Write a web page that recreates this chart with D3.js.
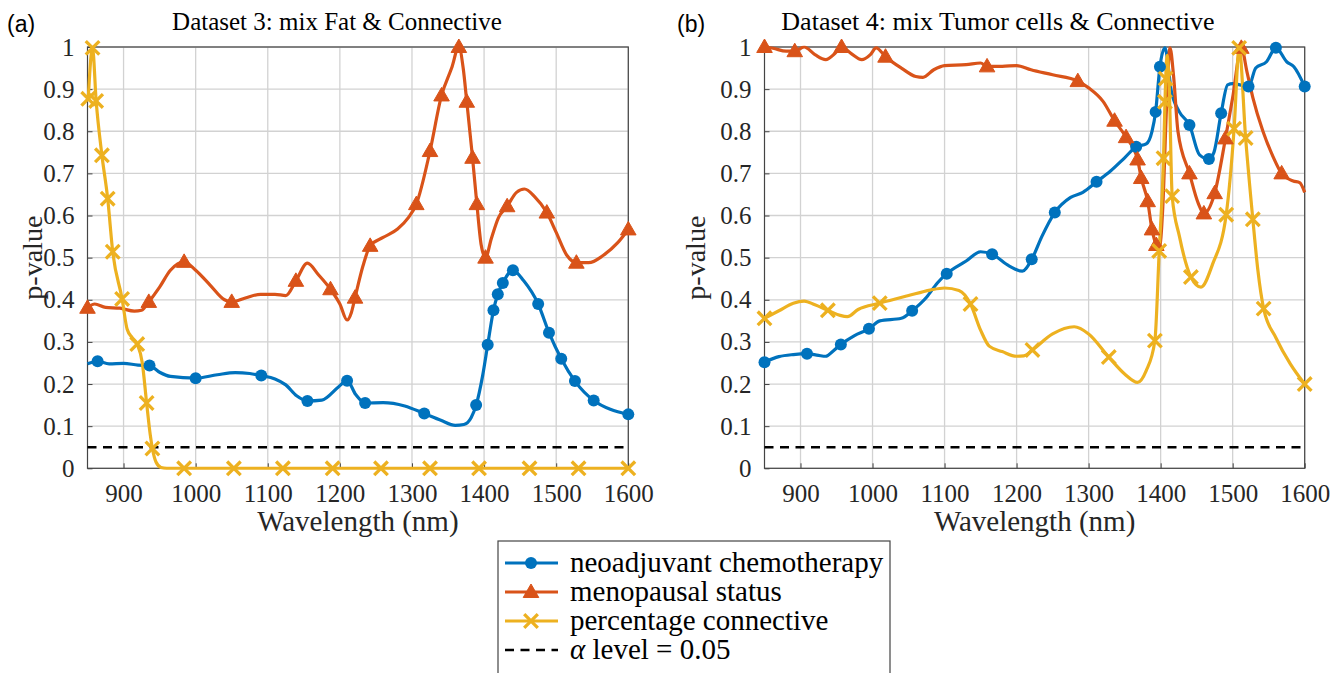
<!DOCTYPE html>
<html><head><meta charset="utf-8">
<script src="https://cdn.jsdelivr.net/npm/d3@7"></script>
<style>
body{margin:0;background:#fff} svg{display:block}
.serif{font-family:"Liberation Serif","Times New Roman",Times,serif}
.sans{font-family:"Liberation Sans",Arial,Helvetica,sans-serif}
</style>
</head><body>
<svg id="c" width="1342" height="673"></svg>
<script>
// ---------- data ----------
const xTicks = [900, 1000, 1100, 1200, 1300, 1400, 1500, 1600];
const xTickLabels = ["900", "1000", "1100", "1200", "1300", "1400", "1500", "1600"];
const yTicks = [0, 0.1, 0.2, 0.3, 0.4, 0.5, 0.6, 0.7, 0.8, 0.9, 1];
const yTickLabels = ["0", "0.1", "0.2", "0.3", "0.4", "0.5", "0.6", "0.7", "0.8", "0.9", "1"];
const xDomain = [850, 1600];
const yDomain = [0, 1];
const alphaLevel = 0.05;
const seriesNames = ["neoadjuvant chemotherapy", "menopausal status", "percentage connective"];
const alphaLabel = ["\u03B1", " level = 0.05"];
const titles = ["Dataset 3: mix Fat & Connective", "Dataset 4: mix Tumor cells & Connective"];
const panelTags = ["(a)", "(b)"];
const xLabel = "Wavelength (nm)";
const yLabel = "p-value";

// [wavelength, p-value, hasMarker]
const ds3Chemo = [[850,0.248,0],[864,0.254,1],[880,0.248,0],[900,0.249,0],[920,0.245,0],[936,0.244,1],[950,0.228,0],[965,0.218,0],[1000,0.214,1],[1030,0.222,0],[1055,0.227,0],[1075,0.225,0],[1091,0.22,1],[1110,0.212,0],[1125,0.198,0],[1140,0.172,0],[1155,0.16,1],[1175,0.162,0],[1198,0.193,0],[1210,0.208,1],[1222,0.175,0],[1235,0.155,1],[1260,0.156,0],[1290,0.148,0],[1317,0.13,1],[1340,0.114,0],[1360,0.102,0],[1372,0.104,0],[1382,0.12,0],[1389,0.15,1],[1398,0.22,0],[1405,0.293,1],[1413,0.375,1],[1419,0.413,1],[1426,0.44,1],[1440,0.47,1],[1455,0.445,0],[1475,0.39,1],[1490,0.322,1],[1507,0.26,1],[1526,0.207,1],[1552,0.161,1],[1575,0.14,0],[1600,0.128,1]];
const ds3Meno = [[850,0.381,1],[860,0.39,0],[875,0.382,0],[895,0.38,0],[915,0.373,0],[925,0.375,0],[935,0.395,1],[950,0.43,0],[965,0.47,0],[984,0.49,1],[1000,0.47,0],[1020,0.435,0],[1040,0.4,0],[1050,0.395,1],[1070,0.405,0],[1090,0.413,0],[1110,0.413,0],[1125,0.41,0],[1139,0.445,1],[1155,0.487,0],[1170,0.46,0],[1187,0.425,1],[1200,0.39,0],[1210,0.352,0],[1216,0.37,0],[1221,0.405,1],[1232,0.48,0],[1242,0.528,1],[1260,0.548,0],[1280,0.568,0],[1295,0.595,0],[1306,0.627,1],[1325,0.753,1],[1341,0.885,1],[1355,0.95,0],[1365,1.0,1],[1371,0.95,0],[1376,0.87,1],[1384,0.737,1],[1390,0.627,1],[1396,0.53,0],[1402,0.5,1],[1410,0.545,0],[1420,0.595,0],[1432,0.622,1],[1445,0.655,0],[1456,0.663,0],[1470,0.645,0],[1487,0.607,1],[1500,0.56,0],[1515,0.505,0],[1528,0.488,1],[1545,0.488,0],[1565,0.505,0],[1585,0.535,0],[1600,0.567,1]];
const ds3Conn = [[851,0.877,1],[857,0.998,1],[862,0.872,1],[870,0.743,1],[878,0.64,1],[885,0.514,1],[898,0.402,1],[905,0.33,0],[912,0.31,0],[919,0.295,1],[926,0.25,0],[932,0.155,1],[937,0.08,0],[940,0.047,1],[945,0.015,0],[952,0.002,0],[960,0,0],[984,0,1],[1053,0,1],[1121,0,1],[1190,0,1],[1257,0,1],[1325,0,1],[1393,0,1],[1463,0,1],[1531,0,1],[1600,0,1]];

const ds4Chemo = [[850,0.252,1],[870,0.265,0],[890,0.27,0],[909,0.272,1],[925,0.268,0],[935,0.266,0],[945,0.278,0],[956,0.294,1],[975,0.315,0],[995,0.331,1],[1010,0.35,0],[1040,0.356,0],[1055,0.374,1],[1075,0.406,0],[1090,0.44,0],[1103,0.462,1],[1130,0.492,0],[1150,0.514,0],[1166,0.508,1],[1190,0.48,0],[1208,0.468,0],[1221,0.496,1],[1235,0.55,0],[1253,0.607,1],[1275,0.643,0],[1292,0.655,0],[1311,0.68,1],[1330,0.705,0],[1350,0.737,0],[1366,0.763,1],[1380,0.77,0],[1388,0.8,0],[1393,0.846,1],[1399,0.953,1],[1406,0.998,0],[1415,0.894,0],[1426,0.846,0],[1440,0.815,1],[1454,0.744,0],[1467,0.734,1],[1474,0.75,0],[1484,0.843,1],[1493,0.91,0],[1500,0.913,0],[1510,0.91,0],[1522,0.906,1],[1532,0.95,0],[1547,0.965,0],[1560,0.998,1],[1575,0.965,0],[1585,0.953,0],[1600,0.906,1]];
const ds4Meno = [[850,1.0,1],[862,0.997,0],[880,0.99,0],[892,0.99,1],[905,1.0,0],[920,0.982,0],[935,0.97,0],[948,0.985,0],[957,1.0,1],[970,0.985,0],[985,0.97,0],[997,0.982,0],[1005,0.998,0],[1018,0.977,1],[1040,0.95,0],[1060,0.93,0],[1070,0.928,0],[1085,0.946,0],[1100,0.956,0],[1130,0.958,0],[1150,0.962,0],[1159,0.954,1],[1180,0.954,0],[1200,0.956,0],[1220,0.946,0],[1250,0.934,0],[1285,0.919,1],[1300,0.903,0],[1320,0.871,0],[1336,0.825,1],[1352,0.786,1],[1368,0.733,1],[1373,0.689,1],[1382,0.634,1],[1388,0.567,1],[1394,0.53,1],[1398,0.52,0],[1403,0.62,0],[1408,0.85,0],[1413,0.998,0],[1418,0.93,0],[1424,0.8,0],[1440,0.70,1],[1452,0.63,0],[1460,0.605,1],[1475,0.653,1],[1490,0.783,1],[1500,0.88,0],[1512,0.998,1],[1520,0.94,0],[1528,0.88,0],[1542,0.8,0],[1556,0.74,0],[1568,0.70,1],[1584,0.682,0],[1593,0.678,0],[1600,0.655,0]];
const ds4Conn = [[850,0.356,1],[870,0.374,0],[890,0.392,0],[905,0.397,0],[920,0.388,0],[938,0.375,1],[955,0.363,0],[965,0.36,0],[980,0.377,0],[1010,0.392,1],[1050,0.41,0],[1080,0.423,0],[1100,0.428,0],[1120,0.422,0],[1136,0.39,1],[1150,0.328,0],[1162,0.29,0],[1180,0.277,0],[1200,0.266,0],[1210,0.267,0],[1222,0.281,1],[1250,0.319,0],[1280,0.336,0],[1300,0.319,0],[1328,0.264,1],[1350,0.224,0],[1368,0.204,0],[1380,0.232,0],[1392,0.303,1],[1398,0.516,1],[1404,0.736,1],[1406,0.87,1],[1407,0.925,1],[1409,0.98,0],[1412,0.9,0],[1416,0.646,1],[1426,0.551,0],[1442,0.454,1],[1456,0.43,0],[1472,0.484,0],[1491,0.602,1],[1502,0.806,1],[1509,0.998,1],[1518,0.784,1],[1528,0.591,1],[1535,0.47,0],[1543,0.379,1],[1560,0.31,0],[1580,0.248,0],[1600,0.2,1]];

// ---------- style / layout ----------
const colors = ["#0072BD", "#D95319", "#EDB120"];
const markerKinds = ["circle", "triangle", "cross"];
const panels = [
  {x0: 87.5, x1: 628.3, titleX: 337, titleSize: 25, tagX: 7, yLabX: 42, series: [ds3Chemo, ds3Meno, ds3Conn]},
  {x0: 764.5, x1: 1304.7, titleX: 998, titleSize: 26, tagX: 677, yLabX: 705, series: [ds4Chemo, ds4Meno, ds4Conn]}
];
const yTop = 47, yBot = 468.3;

const svg = d3.select("#c");

function drawMarker(g, kind, x, y, color) {
  if (kind === "circle") {
    g.append("circle").attr("cx", x).attr("cy", y).attr("r", 6).attr("fill", color);
  } else if (kind === "triangle") {
    g.append("path").attr("d", d3.symbol(d3.symbolTriangle, 105)())
      .attr("transform", `translate(${x},${y + 1})`).attr("fill", color).attr("stroke", color).attr("stroke-width", 1);
  } else {
    const s = 6.8;
    g.append("path").attr("d", `M${x - s},${y - s}L${x + s},${y + s}M${x - s},${y + s}L${x + s},${y - s}`)
      .attr("stroke", color).attr("stroke-width", 3.3).attr("stroke-linecap", "butt").attr("fill", "none");
  }
}

panels.forEach((p, pi) => {
  const x = d3.scaleLinear().domain(xDomain).range([p.x0, p.x1]);
  const y = d3.scaleLinear().domain(yDomain).range([yBot, yTop]);
  const g = svg.append("g");

  // grid
  g.append("g").selectAll("line").data(xTicks).join("line")
    .attr("x1", d => x(d)).attr("x2", d => x(d)).attr("y1", yTop).attr("y2", yBot)
    .attr("stroke", "#d2d2d2").attr("stroke-width", 1.3);
  g.append("g").selectAll("line").data(yTicks).join("line")
    .attr("x1", p.x0).attr("x2", p.x1).attr("y1", d => y(d)).attr("y2", d => y(d))
    .attr("stroke", "#d2d2d2").attr("stroke-width", 1.3);

  // axes
  const xAxis = g.append("g").attr("transform", `translate(0,${yBot})`)
    .call(d3.axisBottom(x).tickValues(xTicks).tickFormat((d, i) => xTickLabels[i]).tickSizeInner(-5).tickSizeOuter(0).tickPadding(14));
  const yAxis = g.append("g").attr("transform", `translate(${p.x0},0)`)
    .call(d3.axisLeft(y).tickValues(yTicks).tickFormat((d, i) => yTickLabels[i]).tickSizeInner(-5).tickSizeOuter(0).tickPadding(13));
  [xAxis, yAxis].forEach(a => {
    a.attr("font-family", null).attr("font-size", null);
    a.select(".domain").remove();
    a.selectAll(".tick line").attr("stroke", "#444");
    a.selectAll("text").attr("class", "serif").style("font-size", "25px").attr("fill", "#262626");
  });
  xAxis.selectAll("text").attr("dy", "0.8em");
  // box
  g.append("rect").attr("x", p.x0).attr("y", yTop).attr("width", p.x1 - p.x0).attr("height", yBot - yTop)
    .attr("fill", "none").attr("stroke", "#444").attr("stroke-width", 1.2);

  // clip
  const cid = "clip" + pi;
  svg.append("clipPath").attr("id", cid).append("rect")
    .attr("x", p.x0 - 2).attr("y", yTop - 1.5).attr("width", p.x1 - p.x0 + 4).attr("height", yBot - yTop + 3);

  // alpha line
  g.append("line").attr("x1", p.x0).attr("x2", p.x1).attr("y1", y(alphaLevel)).attr("y2", y(alphaLevel))
    .attr("stroke", "#000").attr("stroke-width", 2.6).attr("stroke-dasharray", "9,6.5");

  const line = d3.line().x(d => x(d[0])).y(d => y(d[1])).curve(d3.curveMonotoneX);
  p.series.forEach((s, si) => {
    g.append("path").attr("d", line(s)).attr("fill", "none").attr("stroke", colors[si])
      .attr("stroke-width", 3.2).attr("stroke-linejoin", "round").attr("clip-path", `url(#${cid})`);
  });
  p.series.forEach((s, si) => {
    const mg = g.append("g");
    s.filter(d => d[2]).forEach(d => drawMarker(mg, markerKinds[si], x(d[0]), y(d[1]), colors[si]));
  });

  // labels
  g.append("text").attr("class", "serif").attr("x", p.titleX).attr("y", 30).attr("text-anchor", "middle")
    .style("font-size", p.titleSize + "px").attr("fill", "#000").text(titles[pi]);
  g.append("text").attr("class", "sans").attr("x", p.tagX).attr("y", 32).style("font-size", "23px")
    .attr("fill", "#000").text(panelTags[pi]);
  g.append("text").attr("class", "serif").attr("x", (p.x0 + p.x1) / 2).attr("y", 531).attr("text-anchor", "middle")
    .style("font-size", "29px").attr("fill", "#262626").text(xLabel);
  g.append("text").attr("class", "serif").attr("transform", `translate(${p.yLabX},${(yTop + yBot) / 2}) rotate(-90)`)
    .attr("text-anchor", "middle").style("font-size", "28px").attr("fill", "#262626").text(yLabel);
});

// legend
const lg = svg.append("g");
lg.append("rect").attr("x", 498).attr("y", 541).attr("width", 392).attr("height", 160)
  .attr("fill", "#fff").attr("stroke", "#444").attr("stroke-width", 1.2);
const rowY = d3.scaleLinear().domain([0, 3]).range([563, 650]);
seriesNames.forEach((n, i) => {
  const yy = rowY(i);
  lg.append("line").attr("x1", 505).attr("x2", 558).attr("y1", yy).attr("y2", yy).attr("stroke", colors[i]).attr("stroke-width", 3.2);
  drawMarker(lg, markerKinds[i], 531, yy, colors[i]);
  lg.append("text").attr("class", "serif").attr("x", 570).attr("y", yy + 9).style("font-size", "29px").attr("fill", "#000").text(n);
});
{
  const yy = rowY(3);
  lg.append("line").attr("x1", 505).attr("x2", 558).attr("y1", yy).attr("y2", yy)
    .attr("stroke", "#000").attr("stroke-width", 2.6).attr("stroke-dasharray", "9,6.5");
  const t = lg.append("text").attr("class", "serif").attr("x", 570).attr("y", yy + 9).style("font-size", "29px").attr("fill", "#000");
  t.append("tspan").attr("font-style", "italic").text(alphaLabel[0]);
  t.append("tspan").text(alphaLabel[1]);
}
</script>
</body></html>
